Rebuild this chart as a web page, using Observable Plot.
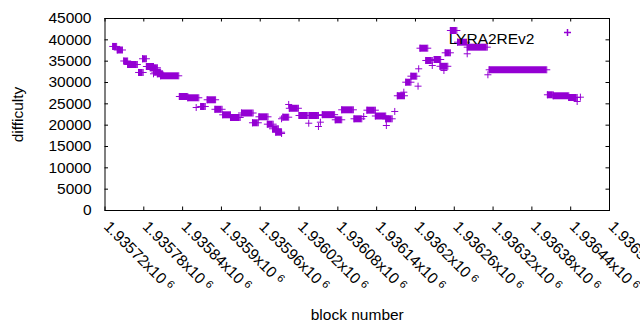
<!DOCTYPE html>
<html><head><meta charset="utf-8">
<script src="https://cdn.jsdelivr.net/npm/d3@7"></script>
<script src="https://cdn.jsdelivr.net/npm/@observablehq/plot@0.6"></script>
<style>
html,body{margin:0;padding:0;background:#fff;}
#chart svg{display:block;}
</style></head><body><div id="chart"></div>
<script>
// Runs of consecutive blocks sharing one difficulty (single blocks have start == end)
const runStart = [1935732,1935739,1935749,1935755,1935772,1935778,1935784,1935790,1935795,1935797,1935801,1935806,1935835,1935848,1935861,1935868,1935878,1935890,1935902,1935914,1935931,1935948,1935958,1935971,1935979,1935984,1935993,1935993,1935995,1936004,1936005,1936020,1936035,1936036,1936053,1936050,1936056,1936076,1936086,1936105,1936120,1936125,1936138,1936154,1936155,1936168,1936172,1936182,1936185,1936204,1936193,1936205,1936207,1936216,1936226,1936229,1936238,1936244,1936246,1936254,1936265,1936280,1936280,1936312,1936314,1936404,1936413,1936437,1936455,1936450];
const runEnd   = [1935738,1935747,1935755,1935770,1935779,1935784,1935795,1935801,1935795,1935806,1935809,1935834,1935848,1935865,1935861,1935875,1935891,1935901,1935914,1935929,1935949,1935957,1935972,1935980,1935988,1935993,1935993,1935993,1936004,1936004,1936019,1936034,1936035,1936050,1936053,1936050,1936075,1936086,1936104,1936117,1936120,1936138,1936154,1936164,1936155,1936168,1936183,1936182,1936193,1936204,1936202,1936205,1936219,1936226,1936226,1936239,1936250,1936244,1936254,1936264,1936279,1936280,1936311,1936312,1936403,1936413,1936437,1936450,1936455,1936450];
const runDifficulty = [38450,37620,35040,34220,32350,35560,33750,33450,32040,32420,32040,31570,26720,26420,24140,24380,25950,23720,22430,21800,22850,20560,21960,20230,19150,18350,18050,21500,21870,24850,23960,22270,20460,22270,20700,19690,22460,21260,23600,21490,22030,23510,22150,21490,19920,23210,26890,27730,30070,29140,31480,33210,38040,35160,33990,35390,33800,32820,36960,42190,39450,36730,38280,31810,32980,27120,26890,26490,26560,25550];

const xTicks = [1935720,1935780,1935840,1935900,1935960,1936020,1936080,1936140,1936200,1936260,1936320,1936380,1936440,1936500];
const xTickLabels = ["1.93572","1.93578","1.93584","1.9359","1.93596","1.93602","1.93608","1.93614","1.9362","1.93626","1.93632","1.93638","1.93644","1.9365"];
const xTickExponent = "6";
const yTicks = [0,5000,10000,15000,20000,25000,30000,35000,40000,45000];
const seriesName = ["LYRA2REv2"];
const xTitle = ["block number"];
const yTitle = ["difficulty"];

const color = "#9400d3";
const runs = runStart.map((s, i) => ({start: s, end: runEnd[i], difficulty: runDifficulty[i]}));
const points = runs.flatMap(r => r.start === r.end
  ? [{block: r.start, difficulty: r.difficulty}]
  : [{block: r.start, difficulty: r.difficulty}, {block: r.end, difficulty: r.difficulty}]);
const xLabelRows = xTicks.map((v, i) => ({v, label: xTickLabels[i] + "x10"}));

const W = 640, H = 330, mL = 104.5, mR = 31, mT = 18, mB = 120;
const ph = H - mT - mB, pw = W - mL - mR, tk = 3.5;

const chart = Plot.plot({
  width: W, height: H,
  marginLeft: mL, marginRight: mR, marginTop: mT, marginBottom: mB,
  style: {fontFamily: "'Liberation Sans', Arial, sans-serif", fontSize: "15.5px", background: "#fff", color: "#000", overflow: "hidden"},
  x: {domain: [1935720, 1936500], axis: null},
  y: {domain: [0, 45000], axis: null},
  marks: [
    Plot.ruleY(runs.filter(r => r.end > r.start), {y: "difficulty", x1: "start", x2: "end", stroke: color, strokeWidth: 7}),
    Plot.dot(points, {x: "block", y: "difficulty", symbol: "plus", r: 2.4, stroke: color, fill: "none", strokeWidth: 1}),
    Plot.tickX(xTicks, {x: d => d, insetTop: ph - tk, stroke: "#000"}),
    Plot.tickX(xTicks, {x: d => d, insetBottom: ph - tk, stroke: "#000"}),
    Plot.tickY(yTicks, {y: d => d, insetRight: pw - tk, stroke: "#000"}),
    Plot.tickY(yTicks, {y: d => d, insetLeft: pw - tk, stroke: "#000"}),
    Plot.frame({stroke: "#000"}),
    Plot.text(yTicks, {y: d => d, frameAnchor: "left", dx: -13.5, textAnchor: "end", text: d => String(d), fill: "#000"}),
    Plot.text(xLabelRows, {x: "v", frameAnchor: "bottom", dx: -2, dy: 17, rotate: 45, textAnchor: "start", text: "label", fill: "#000"}),
    Plot.text(seriesName, {frameAnchor: "top-right", dx: -75, dy: 14, textAnchor: "end", text: d => d, fill: "#000"}),
    Plot.dot(seriesName, {frameAnchor: "top-right", dx: -42, dy: 14, symbol: "plus", r: 2.4, stroke: color, fill: "none"}),
    Plot.text(xTitle, {frameAnchor: "bottom", dy: 109, textAnchor: "middle", text: d => d, fill: "#000"}),
    Plot.text(yTitle, {frameAnchor: "left", dx: -87, rotate: -90, textAnchor: "middle", text: d => d, fill: "#000"})
  ]
});

const svgNS = "http://www.w3.org/2000/svg";
chart.querySelectorAll("text").forEach(t => {
  if (t.textContent.endsWith("x10")) {
    const ts = document.createElementNS(svgNS, "tspan");
    ts.setAttribute("dx", "4");
    ts.setAttribute("dy", "-4");
    ts.setAttribute("font-size", "11");
    ts.textContent = xTickExponent;
    t.appendChild(ts);
  }
});
document.getElementById("chart").appendChild(chart);
</script></body></html>
